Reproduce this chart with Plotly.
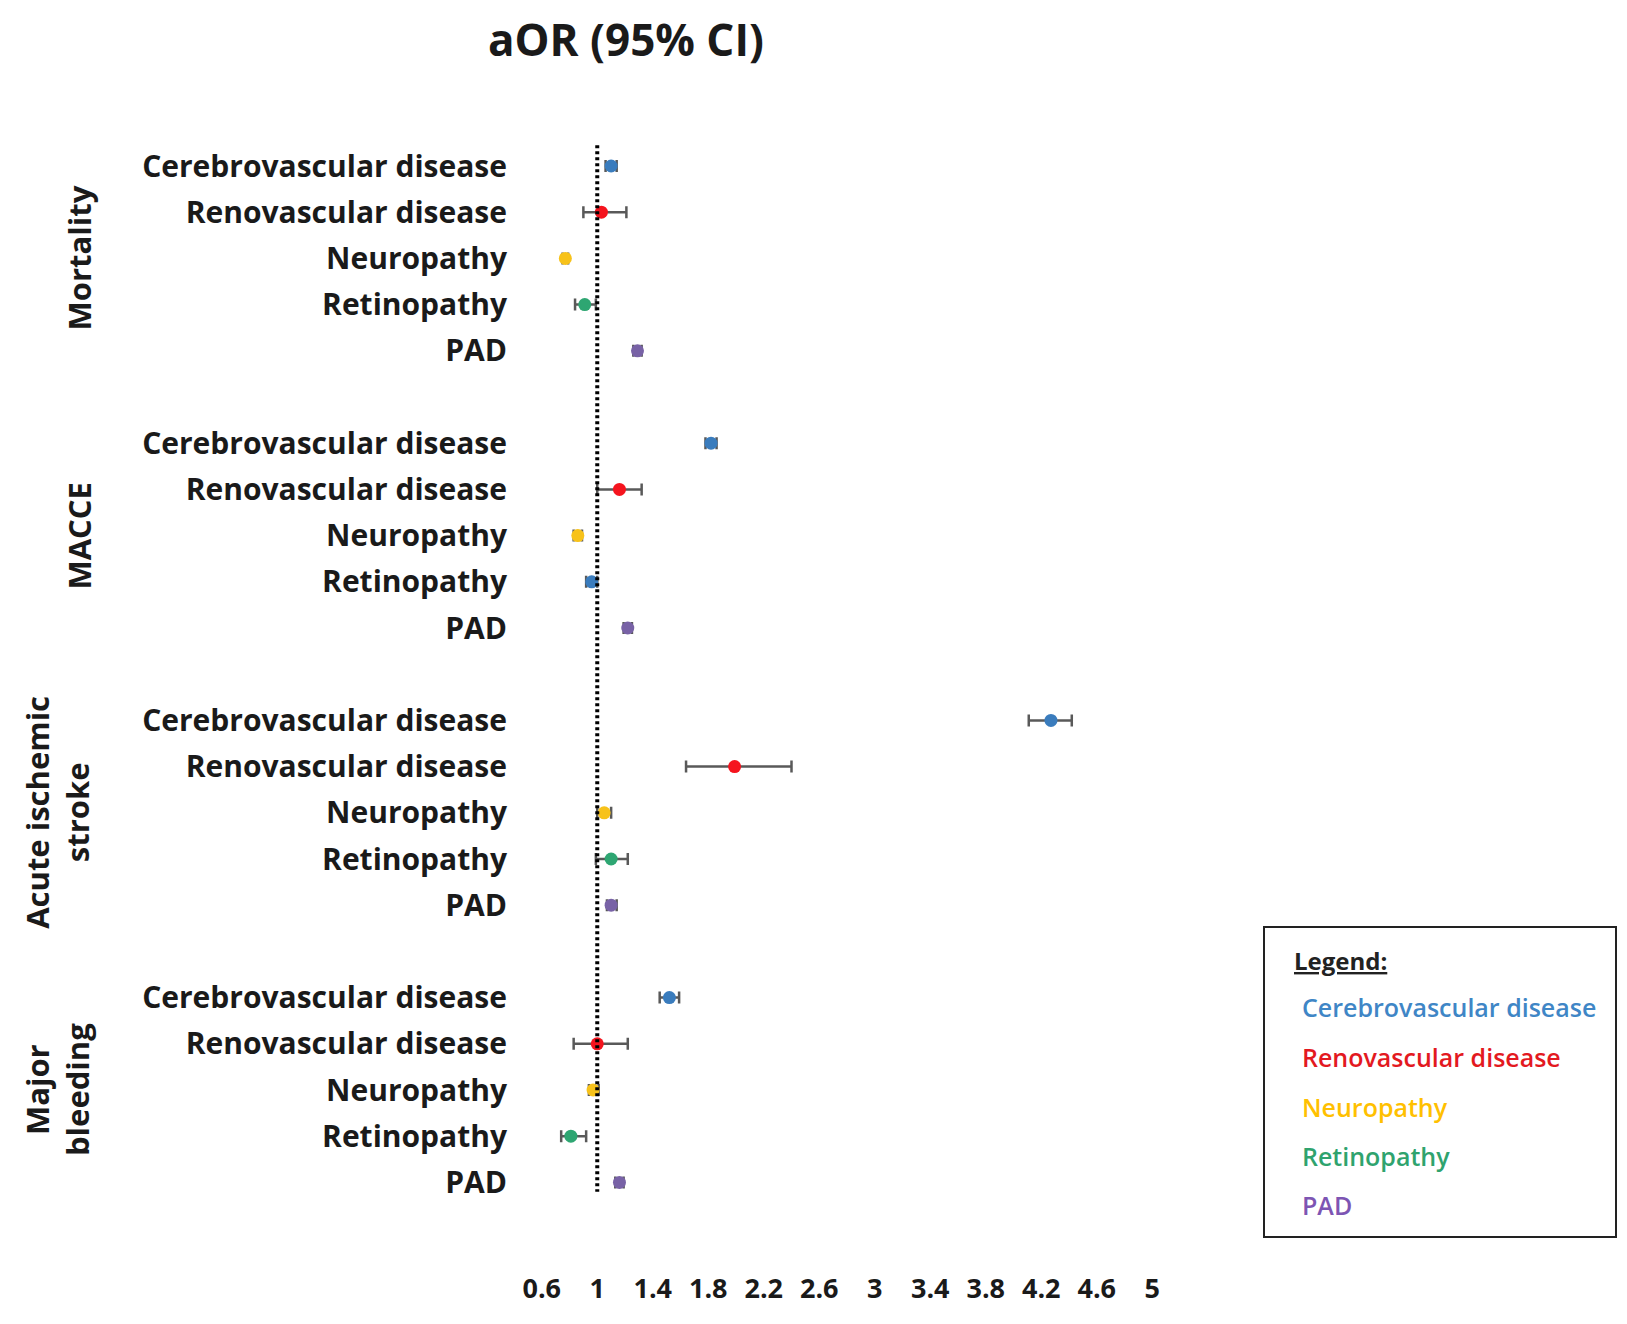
import plotly.graph_objects as go

# ---------------- data ----------------
outcomes = ["Mortality", "MACCE", "Acute ischemic<br>stroke", "Major<br>bleeding"]
conditions = ["Cerebrovascular disease", "Renovascular disease", "Neuropathy", "Retinopathy", "PAD"]

mortality_or = [1.10, 1.03, 0.77, 0.91, 1.29]
mortality_lo = [1.06, 0.90, 0.75, 0.84, 1.26]
mortality_hi = [1.14, 1.21, 0.79, 0.99, 1.32]

macce_or = [1.82, 1.16, 0.86, 0.96, 1.22]
macce_lo = [1.78, 1.00, 0.83, 0.92, 1.19]
macce_hi = [1.86, 1.32, 0.89, 1.00, 1.25]

ais_or = [4.27, 1.99, 1.05, 1.10, 1.10]
ais_lo = [4.11, 1.64, 1.00, 0.99, 1.07]
ais_hi = [4.42, 2.40, 1.10, 1.22, 1.14]

mb_or = [1.52, 1.00, 0.97, 0.81, 1.16]
mb_lo = [1.45, 0.83, 0.94, 0.74, 1.13]
mb_hi = [1.59, 1.22, 1.01, 0.92, 1.19]

x_ticks = [0.6, 1, 1.4, 1.8, 2.2, 2.6, 3, 3.4, 3.8, 4.2, 4.6, 5]
x_ticktext = ["0.6", "1", "1.4", "1.8", "2.2", "2.6", "3", "3.4", "3.8", "4.2", "4.6", "5"]
reference_value = 1

# ---------------- styles ----------------
OFF = 8  # page body margin
W, H = 1611, 1306
ML, MT = 506, 122
PLOT_RIGHT, PLOT_BOTTOM = 1172, 1262  # figure pixels
MR, MB = W - PLOT_RIGHT, H - PLOT_BOTTOM
PW, PH = W - ML - MR, H - MT - MB

def px_x(px):  # page pixel -> paper x
    return (px - OFF - ML) / PW

def px_y(py):  # page pixel -> paper y
    return (H - MB - (py - OFF)) / PH

FONT = "Open Sans"
colors = {
    "Cerebrovascular disease": "#3a7cbd",
    "Renovascular disease": "#f5141e",
    "Neuropathy": "#f7c21a",
    "Retinopathy": "#2ea672",
    "PAD": "#7862a6",
}
legend_colors = {
    "Cerebrovascular disease": "#3f86c6",
    "Renovascular disease": "#e3191f",
    "Neuropathy": "#ffc000",
    "Retinopathy": "#2fa36e",
    "PAD": "#7d55b3",
}
# the source figure draws MACCE / Retinopathy in the blue colour
color_override = {(1, 3): colors["Cerebrovascular disease"]}

ors = [mortality_or, macce_or, ais_or, mb_or]
los = [mortality_lo, macce_lo, ais_lo, mb_lo]
his = [mortality_hi, macce_hi, ais_hi, mb_hi]

n_cond = len(conditions)
step = n_cond + 1  # one blank row between groups

fig = go.Figure()

for ci, cond in enumerate(conditions):
    xs, ys, ep, em, cols = [], [], [], [], []
    for gi in range(len(outcomes)):
        v = ors[gi][ci]
        xs.append(v)
        ys.append(gi * step + ci)
        ep.append(his[gi][ci] - v)
        em.append(v - los[gi][ci])
        cols.append(color_override.get((gi, ci), colors[cond]))
    fig.add_trace(go.Scatter(
        x=xs, y=ys, mode="markers", name=cond, showlegend=False,
        marker=dict(color=cols, size=13, symbol="circle"),
        error_x=dict(type="data", symmetric=False, array=ep, arrayminus=em,
                     color="#595959", thickness=2.5, width=6),
    ))

row_vals, row_text = [], []
for gi in range(len(outcomes)):
    for ci, cond in enumerate(conditions):
        row_vals.append(gi * step + ci)
        row_text.append(cond)

n_rows = len(outcomes) * step - 1
row0_px, row_sp = 166 - OFF, 46.2  # figure pixels
y_top = -(row0_px - MT) / row_sp
y_bot = (H - MB - row0_px) / row_sp

# reference (null) line at aOR = 1
fig.add_shape(type="line", xref="x", yref="y",
              x0=reference_value, x1=reference_value, y0=-0.45, y1=n_rows - 1 + 0.2,
              line=dict(color="black", width=4, dash="3px,3px"))

# outcome group labels (rotated)
for gi, name in enumerate(outcomes):
    two = "<br>" in name
    fig.add_annotation(
        text=name, xref="paper", yref="y",
        x=px_x(57 if two else 79), y=gi * step + (n_cond - 1) / 2,
        textangle=-90, showarrow=False, xanchor="center", yanchor="middle",
        font=dict(family=FONT, size=31, color="#1a1a1a", weight="bold"),
    )

# title
fig.add_annotation(text="aOR (95% CI)", xref="paper", yref="paper",
                   x=px_x(626), y=px_y(39), showarrow=False,
                   xanchor="center", yanchor="middle",
                   font=dict(family=FONT, size=44, color="#1a1a1a", weight="bold"))

# legend box
fig.add_shape(type="rect", xref="paper", yref="paper",
              x0=px_x(1264), x1=px_x(1616), y0=px_y(1237), y1=px_y(927),
              line=dict(color="#222", width=2), fillcolor="white", layer="below")
fig.add_annotation(text="<u>Legend:</u>", xref="paper", yref="paper",
                   x=px_x(1292), y=px_y(961), showarrow=False,
                   xanchor="left", yanchor="middle",
                   font=dict(family=FONT, size=24, color="#222", weight="bold"))
leg_y = [1007, 1057, 1107, 1156, 1205]
for cond, py in zip(conditions, leg_y):
    fig.add_annotation(text=cond, xref="paper", yref="paper",
                       x=px_x(1300), y=px_y(py), showarrow=False,
                       xanchor="left", yanchor="middle",
                       font=dict(family=FONT, size=25, color=legend_colors[cond], weight=600))

fig.update_layout(
    width=W, height=H,
    margin=dict(l=ML, r=MR, t=MT, b=MB),
    paper_bgcolor="white", plot_bgcolor="white",
    xaxis=dict(range=[0.4, 5.2], tickvals=x_ticks, ticktext=x_ticktext,
               automargin=False,
               showgrid=False, zeroline=False, showline=False, ticks="",
               tickfont=dict(family=FONT, size=27, color="#1a1a1a", weight="bold")),
    yaxis=dict(range=[y_bot, y_top], tickvals=row_vals, ticktext=row_text,
               automargin=False, ticklabelstandoff=6,
               showgrid=False, zeroline=False, showline=False, ticks="",
               tickfont=dict(family=FONT, size=30, color="#1a1a1a", weight="bold")),
)

fig.write_html("out.html")
